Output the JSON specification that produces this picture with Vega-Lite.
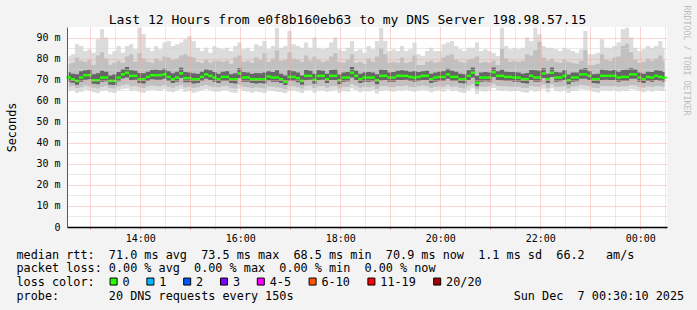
{
  "$schema": "https://vega.github.io/schema/vega-lite/v6.json",
  "width": 600,
  "height": 200,
  "autosize": {"type": "none"},
  "padding": {"left": 67, "top": 27, "right": 30, "bottom": 83},
  "background": "#f3f3f3",
  "title": {
    "text": "Last 12 Hours from e0f8b160eb63 to my DNS Server 198.98.57.15",
    "font": "DejaVu Sans Mono", "fontSize": 13, "fontWeight": "normal", "color": "black",
    "anchor": "middle", "frame": "group", "dx": -19.5, "dy": 35, "offset": 3.5, "baseline": "alphabetic"
  },
  "data": {"values": [
    {"t":"2025-12-06T12:34","lo":64.5,"p10":66.5,"q1":69.0,"med":71.0,"q3":73.5,"p90":77.5,"hi":81.2},
    {"t":"2025-12-06T12:39","lo":65.0,"p10":67.0,"q1":68.5,"med":70.2,"q3":72.8,"p90":78.0,"hi":82.0},
    {"t":"2025-12-06T12:44","lo":63.8,"p10":66.0,"q1":67.6,"med":69.4,"q3":72.5,"p90":80.5,"hi":86.8},
    {"t":"2025-12-06T12:49","lo":64.2,"p10":66.4,"q1":69.0,"med":71.0,"q3":74.0,"p90":79.0,"hi":86.0},
    {"t":"2025-12-06T12:54","lo":65.2,"p10":67.2,"q1":70.0,"med":72.1,"q3":74.5,"p90":78.5,"hi":83.6},
    {"t":"2025-12-06T12:59","lo":64.8,"p10":66.8,"q1":70.2,"med":72.1,"q3":74.8,"p90":79.5,"hi":84.4},
    {"t":"2025-12-06T13:04","lo":64.0,"p10":66.2,"q1":68.0,"med":69.7,"q3":72.6,"p90":77.0,"hi":82.8},
    {"t":"2025-12-06T13:09","lo":63.5,"p10":65.8,"q1":67.8,"med":69.7,"q3":73.0,"p90":81.5,"hi":89.2},
    {"t":"2025-12-06T13:14","lo":64.6,"p10":66.6,"q1":69.0,"med":71.0,"q3":74.2,"p90":83.0,"hi":93.9},
    {"t":"2025-12-06T13:19","lo":65.0,"p10":67.0,"q1":69.2,"med":71.0,"q3":73.8,"p90":80.0,"hi":90.0},
    {"t":"2025-12-06T13:24","lo":64.0,"p10":66.0,"q1":67.6,"med":69.4,"q3":72.0,"p90":77.0,"hi":82.0},
    {"t":"2025-12-06T13:29","lo":63.6,"p10":65.8,"q1":67.5,"med":69.4,"q3":72.4,"p90":78.0,"hi":83.6},
    {"t":"2025-12-06T13:34","lo":64.8,"p10":66.8,"q1":69.2,"med":71.0,"q3":73.6,"p90":79.0,"hi":86.0},
    {"t":"2025-12-06T13:39","lo":65.5,"p10":67.5,"q1":70.5,"med":72.5,"q3":75.0,"p90":78.0,"hi":82.8},
    {"t":"2025-12-06T13:44","lo":65.8,"p10":67.8,"q1":71.0,"med":73.3,"q3":76.0,"p90":81.0,"hi":86.0},
    {"t":"2025-12-06T13:49","lo":64.6,"p10":66.8,"q1":69.8,"med":71.8,"q3":74.5,"p90":82.0,"hi":86.8},
    {"t":"2025-12-06T13:54","lo":65.0,"p10":67.0,"q1":70.0,"med":71.8,"q3":74.2,"p90":78.5,"hi":84.4},
    {"t":"2025-12-06T13:59","lo":64.2,"p10":66.4,"q1":68.4,"med":70.2,"q3":73.2,"p90":82.5,"hi":94.7},
    {"t":"2025-12-06T14:04","lo":63.8,"p10":66.0,"q1":68.2,"med":70.2,"q3":73.0,"p90":80.0,"hi":91.5},
    {"t":"2025-12-06T14:09","lo":64.8,"p10":66.8,"q1":69.4,"med":71.3,"q3":73.8,"p90":78.5,"hi":85.2},
    {"t":"2025-12-06T14:14","lo":65.2,"p10":67.2,"q1":70.2,"med":72.1,"q3":74.6,"p90":78.0,"hi":83.6},
    {"t":"2025-12-06T14:19","lo":65.0,"p10":67.0,"q1":70.0,"med":72.1,"q3":74.8,"p90":80.0,"hi":86.0},
    {"t":"2025-12-06T14:24","lo":64.6,"p10":66.8,"q1":70.0,"med":72.1,"q3":74.4,"p90":79.0,"hi":84.4},
    {"t":"2025-12-06T14:29","lo":65.4,"p10":67.4,"q1":70.4,"med":72.5,"q3":75.2,"p90":81.0,"hi":87.6},
    {"t":"2025-12-06T14:34","lo":64.4,"p10":66.6,"q1":69.4,"med":71.3,"q3":74.0,"p90":80.5,"hi":88.4},
    {"t":"2025-12-06T14:39","lo":64.0,"p10":66.2,"q1":68.4,"med":70.2,"q3":73.0,"p90":79.5,"hi":86.0},
    {"t":"2025-12-06T14:44","lo":64.8,"p10":66.8,"q1":69.0,"med":71.0,"q3":73.8,"p90":80.0,"hi":86.8},
    {"t":"2025-12-06T14:49","lo":65.6,"p10":67.6,"q1":70.8,"med":73.0,"q3":75.6,"p90":81.5,"hi":87.6},
    {"t":"2025-12-06T14:54","lo":64.2,"p10":66.4,"q1":68.8,"med":70.7,"q3":73.6,"p90":82.0,"hi":89.2},
    {"t":"2025-12-06T14:59","lo":64.6,"p10":66.6,"q1":68.8,"med":70.7,"q3":73.4,"p90":81.0,"hi":90.7},
    {"t":"2025-12-06T15:04","lo":63.8,"p10":66.0,"q1":68.2,"med":70.2,"q3":73.0,"p90":80.5,"hi":88.4},
    {"t":"2025-12-06T15:09","lo":64.4,"p10":66.4,"q1":68.4,"med":70.2,"q3":72.8,"p90":78.5,"hi":85.2},
    {"t":"2025-12-06T15:14","lo":65.0,"p10":67.0,"q1":69.4,"med":71.3,"q3":73.8,"p90":78.0,"hi":83.6},
    {"t":"2025-12-06T15:19","lo":65.4,"p10":67.4,"q1":70.4,"med":72.5,"q3":75.0,"p90":79.5,"hi":85.2},
    {"t":"2025-12-06T15:24","lo":64.8,"p10":66.8,"q1":69.8,"med":71.8,"q3":74.4,"p90":78.0,"hi":82.8},
    {"t":"2025-12-06T15:29","lo":64.4,"p10":66.6,"q1":69.0,"med":71.0,"q3":73.6,"p90":79.0,"hi":86.0},
    {"t":"2025-12-06T15:34","lo":64.2,"p10":66.4,"q1":68.4,"med":70.2,"q3":72.8,"p90":79.0,"hi":85.2},
    {"t":"2025-12-06T15:39","lo":64.8,"p10":66.8,"q1":69.4,"med":71.3,"q3":73.8,"p90":78.5,"hi":84.4},
    {"t":"2025-12-06T15:44","lo":65.0,"p10":67.0,"q1":69.4,"med":71.3,"q3":74.0,"p90":79.0,"hi":85.2},
    {"t":"2025-12-06T15:49","lo":64.0,"p10":66.2,"q1":68.4,"med":70.2,"q3":72.6,"p90":77.5,"hi":83.6},
    {"t":"2025-12-06T15:54","lo":63.6,"p10":65.8,"q1":68.2,"med":70.2,"q3":73.0,"p90":80.5,"hi":86.0},
    {"t":"2025-12-06T15:59","lo":65.6,"p10":67.6,"q1":70.8,"med":72.9,"q3":75.4,"p90":81.5,"hi":87.6},
    {"t":"2025-12-06T16:04","lo":64.6,"p10":66.6,"q1":69.0,"med":71.0,"q3":73.6,"p90":78.5,"hi":84.4},
    {"t":"2025-12-06T16:09","lo":64.2,"p10":66.4,"q1":69.0,"med":71.0,"q3":73.4,"p90":79.0,"hi":85.2},
    {"t":"2025-12-06T16:14","lo":63.8,"p10":66.0,"q1":68.4,"med":70.2,"q3":72.8,"p90":78.0,"hi":83.6},
    {"t":"2025-12-06T16:19","lo":64.4,"p10":66.4,"q1":68.2,"med":70.2,"q3":73.2,"p90":80.5,"hi":86.8},
    {"t":"2025-12-06T16:24","lo":64.0,"p10":66.2,"q1":68.4,"med":70.2,"q3":73.0,"p90":79.5,"hi":86.0},
    {"t":"2025-12-06T16:29","lo":63.6,"p10":65.8,"q1":68.2,"med":70.2,"q3":73.4,"p90":82.5,"hi":88.4},
    {"t":"2025-12-06T16:34","lo":64.8,"p10":66.8,"q1":69.6,"med":71.5,"q3":74.0,"p90":78.5,"hi":84.4},
    {"t":"2025-12-06T16:39","lo":64.6,"p10":66.6,"q1":69.0,"med":71.0,"q3":73.6,"p90":80.0,"hi":86.0},
    {"t":"2025-12-06T16:44","lo":64.2,"p10":66.4,"q1":69.0,"med":71.0,"q3":74.4,"p90":84.0,"hi":94.7},
    {"t":"2025-12-06T16:49","lo":64.0,"p10":66.2,"q1":68.4,"med":70.2,"q3":72.8,"p90":79.0,"hi":85.2},
    {"t":"2025-12-06T16:54","lo":63.5,"p10":65.6,"q1":67.4,"med":69.0,"q3":72.0,"p90":79.5,"hi":86.0},
    {"t":"2025-12-06T16:59","lo":64.6,"p10":66.8,"q1":69.4,"med":71.3,"q3":74.4,"p90":83.0,"hi":93.1},
    {"t":"2025-12-06T17:04","lo":64.8,"p10":66.8,"q1":69.4,"med":71.3,"q3":74.0,"p90":80.0,"hi":86.8},
    {"t":"2025-12-06T17:09","lo":64.4,"p10":66.4,"q1":68.8,"med":70.7,"q3":73.4,"p90":79.5,"hi":86.0},
    {"t":"2025-12-06T17:14","lo":63.6,"p10":65.8,"q1":67.6,"med":69.4,"q3":72.0,"p90":78.5,"hi":85.2},
    {"t":"2025-12-06T17:19","lo":65.0,"p10":67.0,"q1":69.8,"med":71.8,"q3":74.6,"p90":81.5,"hi":87.6},
    {"t":"2025-12-06T17:24","lo":65.2,"p10":67.2,"q1":70.0,"med":71.8,"q3":74.2,"p90":79.0,"hi":85.2},
    {"t":"2025-12-06T17:29","lo":63.8,"p10":66.0,"q1":68.0,"med":69.9,"q3":72.8,"p90":81.0,"hi":90.0},
    {"t":"2025-12-06T17:34","lo":64.8,"p10":66.8,"q1":69.8,"med":71.8,"q3":74.4,"p90":79.5,"hi":85.2},
    {"t":"2025-12-06T17:39","lo":65.0,"p10":67.0,"q1":70.0,"med":71.8,"q3":74.2,"p90":78.5,"hi":84.4},
    {"t":"2025-12-06T17:44","lo":64.2,"p10":66.2,"q1":68.4,"med":70.2,"q3":72.8,"p90":79.0,"hi":85.2},
    {"t":"2025-12-06T17:49","lo":64.6,"p10":66.8,"q1":69.8,"med":71.8,"q3":74.6,"p90":81.0,"hi":87.6},
    {"t":"2025-12-06T17:54","lo":65.0,"p10":67.0,"q1":69.8,"med":71.8,"q3":74.8,"p90":82.5,"hi":90.0},
    {"t":"2025-12-06T17:59","lo":63.6,"p10":65.8,"q1":67.8,"med":69.7,"q3":72.4,"p90":78.5,"hi":84.4},
    {"t":"2025-12-06T18:04","lo":64.6,"p10":66.6,"q1":69.0,"med":71.0,"q3":73.4,"p90":78.0,"hi":83.6},
    {"t":"2025-12-06T18:09","lo":64.4,"p10":66.6,"q1":69.2,"med":71.0,"q3":73.6,"p90":79.5,"hi":85.2},
    {"t":"2025-12-06T18:14","lo":65.8,"p10":67.8,"q1":71.0,"med":73.3,"q3":76.0,"p90":82.0,"hi":88.4},
    {"t":"2025-12-06T18:19","lo":65.0,"p10":67.0,"q1":69.8,"med":71.8,"q3":74.2,"p90":78.0,"hi":83.6},
    {"t":"2025-12-06T18:24","lo":64.0,"p10":66.2,"q1":68.4,"med":70.2,"q3":72.8,"p90":78.5,"hi":84.4},
    {"t":"2025-12-06T18:29","lo":64.6,"p10":66.6,"q1":69.0,"med":71.0,"q3":73.4,"p90":77.5,"hi":82.8},
    {"t":"2025-12-06T18:34","lo":64.4,"p10":66.4,"q1":69.0,"med":71.0,"q3":73.6,"p90":80.0,"hi":86.0},
    {"t":"2025-12-06T18:39","lo":64.8,"p10":66.8,"q1":69.2,"med":71.0,"q3":73.4,"p90":78.5,"hi":84.4},
    {"t":"2025-12-06T18:44","lo":63.4,"p10":65.6,"q1":67.8,"med":69.7,"q3":72.6,"p90":81.0,"hi":88.4},
    {"t":"2025-12-06T18:49","lo":64.6,"p10":66.8,"q1":69.6,"med":71.8,"q3":74.8,"p90":85.0,"hi":94.7},
    {"t":"2025-12-06T18:54","lo":65.0,"p10":67.0,"q1":69.8,"med":71.8,"q3":74.6,"p90":82.0,"hi":88.4},
    {"t":"2025-12-06T18:59","lo":64.6,"p10":66.6,"q1":69.0,"med":71.0,"q3":73.4,"p90":78.0,"hi":83.6},
    {"t":"2025-12-06T19:04","lo":64.2,"p10":66.4,"q1":69.0,"med":71.0,"q3":73.6,"p90":78.5,"hi":84.4},
    {"t":"2025-12-06T19:09","lo":65.0,"p10":67.0,"q1":69.8,"med":71.8,"q3":74.2,"p90":78.0,"hi":83.6},
    {"t":"2025-12-06T19:14","lo":64.8,"p10":66.8,"q1":69.8,"med":71.8,"q3":74.4,"p90":80.5,"hi":86.0},
    {"t":"2025-12-06T19:19","lo":65.2,"p10":67.2,"q1":70.0,"med":71.8,"q3":74.2,"p90":78.0,"hi":83.6},
    {"t":"2025-12-06T19:24","lo":64.6,"p10":66.6,"q1":69.4,"med":71.3,"q3":73.8,"p90":78.5,"hi":84.4},
    {"t":"2025-12-06T19:29","lo":64.2,"p10":66.4,"q1":69.0,"med":71.0,"q3":74.0,"p90":81.5,"hi":87.6},
    {"t":"2025-12-06T19:34","lo":64.8,"p10":66.8,"q1":69.4,"med":71.3,"q3":73.6,"p90":77.0,"hi":82.0},
    {"t":"2025-12-06T19:39","lo":65.2,"p10":67.2,"q1":69.8,"med":71.8,"q3":74.0,"p90":77.0,"hi":81.2},
    {"t":"2025-12-06T19:44","lo":64.8,"p10":66.8,"q1":69.8,"med":71.8,"q3":74.2,"p90":78.5,"hi":83.6},
    {"t":"2025-12-06T19:49","lo":64.0,"p10":66.2,"q1":68.4,"med":70.2,"q3":72.8,"p90":79.0,"hi":85.2},
    {"t":"2025-12-06T19:54","lo":64.6,"p10":66.6,"q1":69.0,"med":71.0,"q3":73.4,"p90":78.0,"hi":83.6},
    {"t":"2025-12-06T19:59","lo":64.8,"p10":66.8,"q1":69.4,"med":71.3,"q3":73.8,"p90":78.5,"hi":83.6},
    {"t":"2025-12-06T20:04","lo":64.4,"p10":66.6,"q1":69.4,"med":71.3,"q3":74.0,"p90":80.5,"hi":86.8},
    {"t":"2025-12-06T20:09","lo":65.4,"p10":67.4,"q1":70.4,"med":72.5,"q3":75.2,"p90":81.5,"hi":87.6},
    {"t":"2025-12-06T20:14","lo":64.6,"p10":66.6,"q1":69.4,"med":71.3,"q3":74.2,"p90":82.0,"hi":88.4},
    {"t":"2025-12-06T20:19","lo":64.8,"p10":66.8,"q1":69.4,"med":71.3,"q3":73.8,"p90":79.5,"hi":86.0},
    {"t":"2025-12-06T20:24","lo":64.0,"p10":66.2,"q1":68.4,"med":70.2,"q3":72.8,"p90":78.5,"hi":84.4},
    {"t":"2025-12-06T20:29","lo":63.6,"p10":65.8,"q1":68.2,"med":70.2,"q3":72.6,"p90":78.0,"hi":83.6},
    {"t":"2025-12-06T20:34","lo":65.0,"p10":67.0,"q1":69.8,"med":71.8,"q3":74.4,"p90":79.5,"hi":85.2},
    {"t":"2025-12-06T20:39","lo":65.8,"p10":67.8,"q1":71.0,"med":73.3,"q3":75.8,"p90":80.0,"hi":85.2},
    {"t":"2025-12-06T20:44","lo":63.2,"p10":65.4,"q1":66.8,"med":68.5,"q3":71.8,"p90":81.0,"hi":87.6},
    {"t":"2025-12-06T20:49","lo":64.6,"p10":66.6,"q1":69.0,"med":71.0,"q3":73.4,"p90":78.0,"hi":83.6},
    {"t":"2025-12-06T20:54","lo":64.4,"p10":66.6,"q1":69.2,"med":71.0,"q3":73.6,"p90":78.5,"hi":84.4},
    {"t":"2025-12-06T20:59","lo":64.8,"p10":66.8,"q1":69.0,"med":71.0,"q3":73.4,"p90":78.0,"hi":83.6},
    {"t":"2025-12-06T21:04","lo":66.0,"p10":68.0,"q1":71.2,"med":73.5,"q3":75.8,"p90":79.0,"hi":82.8},
    {"t":"2025-12-06T21:09","lo":65.0,"p10":67.0,"q1":69.8,"med":71.8,"q3":74.0,"p90":77.0,"hi":81.2},
    {"t":"2025-12-06T21:14","lo":64.6,"p10":66.8,"q1":69.6,"med":71.8,"q3":74.8,"p90":84.5,"hi":94.7},
    {"t":"2025-12-06T21:19","lo":64.8,"p10":66.8,"q1":69.4,"med":71.3,"q3":73.8,"p90":80.0,"hi":86.0},
    {"t":"2025-12-06T21:24","lo":64.4,"p10":66.6,"q1":69.4,"med":71.3,"q3":73.6,"p90":78.5,"hi":84.4},
    {"t":"2025-12-06T21:29","lo":64.6,"p10":66.6,"q1":69.0,"med":71.0,"q3":73.6,"p90":79.0,"hi":85.2},
    {"t":"2025-12-06T21:34","lo":64.6,"p10":66.6,"q1":69.0,"med":71.0,"q3":73.4,"p90":78.5,"hi":84.4},
    {"t":"2025-12-06T21:39","lo":64.0,"p10":66.2,"q1":68.4,"med":70.2,"q3":72.8,"p90":79.0,"hi":85.2},
    {"t":"2025-12-06T21:44","lo":63.8,"p10":66.0,"q1":68.2,"med":70.2,"q3":73.2,"p90":82.0,"hi":90.0},
    {"t":"2025-12-06T21:49","lo":65.0,"p10":67.0,"q1":69.8,"med":71.8,"q3":74.6,"p90":81.5,"hi":88.4},
    {"t":"2025-12-06T21:54","lo":64.4,"p10":66.6,"q1":69.0,"med":71.0,"q3":74.4,"p90":84.0,"hi":94.7},
    {"t":"2025-12-06T21:59","lo":64.6,"p10":66.6,"q1":69.0,"med":71.0,"q3":74.2,"p90":88.0,"hi":91.5},
    {"t":"2025-12-06T22:04","lo":65.6,"p10":67.6,"q1":70.8,"med":72.9,"q3":75.4,"p90":80.5,"hi":86.0},
    {"t":"2025-12-06T22:09","lo":64.0,"p10":66.2,"q1":68.4,"med":70.2,"q3":72.8,"p90":79.0,"hi":85.2},
    {"t":"2025-12-06T22:14","lo":65.8,"p10":67.8,"q1":71.2,"med":73.3,"q3":75.8,"p90":80.0,"hi":85.2},
    {"t":"2025-12-06T22:19","lo":64.6,"p10":66.6,"q1":69.0,"med":71.0,"q3":73.6,"p90":78.5,"hi":84.4},
    {"t":"2025-12-06T22:24","lo":64.4,"p10":66.6,"q1":69.2,"med":71.0,"q3":73.4,"p90":78.0,"hi":83.6},
    {"t":"2025-12-06T22:29","lo":65.0,"p10":67.0,"q1":69.8,"med":71.8,"q3":74.4,"p90":79.5,"hi":85.2},
    {"t":"2025-12-06T22:34","lo":63.6,"p10":65.8,"q1":67.8,"med":69.7,"q3":72.4,"p90":78.5,"hi":84.4},
    {"t":"2025-12-06T22:39","lo":64.6,"p10":66.6,"q1":69.0,"med":71.0,"q3":73.4,"p90":78.0,"hi":83.6},
    {"t":"2025-12-06T22:44","lo":64.8,"p10":66.8,"q1":69.2,"med":71.0,"q3":73.4,"p90":77.5,"hi":82.8},
    {"t":"2025-12-06T22:49","lo":65.4,"p10":67.4,"q1":70.4,"med":72.5,"q3":75.0,"p90":79.0,"hi":84.4},
    {"t":"2025-12-06T22:54","lo":65.2,"p10":67.2,"q1":70.4,"med":72.5,"q3":75.4,"p90":84.0,"hi":93.1},
    {"t":"2025-12-06T22:59","lo":65.0,"p10":67.0,"q1":69.8,"med":71.8,"q3":74.0,"p90":77.0,"hi":82.0},
    {"t":"2025-12-06T23:04","lo":64.2,"p10":66.2,"q1":68.4,"med":70.2,"q3":72.6,"p90":77.0,"hi":82.0},
    {"t":"2025-12-06T23:09","lo":63.8,"p10":66.0,"q1":68.2,"med":70.2,"q3":72.8,"p90":77.5,"hi":82.8},
    {"t":"2025-12-06T23:14","lo":64.8,"p10":66.8,"q1":69.8,"med":71.8,"q3":74.8,"p90":82.0,"hi":89.2},
    {"t":"2025-12-06T23:19","lo":65.0,"p10":67.0,"q1":70.0,"med":71.8,"q3":74.4,"p90":79.5,"hi":85.2},
    {"t":"2025-12-06T23:24","lo":64.6,"p10":66.8,"q1":69.8,"med":71.8,"q3":74.2,"p90":79.0,"hi":85.2},
    {"t":"2025-12-06T23:29","lo":65.0,"p10":67.0,"q1":69.8,"med":71.8,"q3":74.6,"p90":80.5,"hi":86.0},
    {"t":"2025-12-06T23:34","lo":64.4,"p10":66.6,"q1":69.0,"med":71.0,"q3":73.8,"p90":81.0,"hi":87.6},
    {"t":"2025-12-06T23:39","lo":64.8,"p10":66.8,"q1":69.4,"med":71.3,"q3":74.6,"p90":86.0,"hi":93.9},
    {"t":"2025-12-06T23:44","lo":64.6,"p10":66.8,"q1":69.4,"med":71.3,"q3":74.8,"p90":87.0,"hi":94.7},
    {"t":"2025-12-06T23:49","lo":65.4,"p10":67.4,"q1":70.4,"med":72.5,"q3":75.4,"p90":83.0,"hi":90.0},
    {"t":"2025-12-06T23:54","lo":65.2,"p10":67.2,"q1":70.4,"med":72.5,"q3":75.0,"p90":79.5,"hi":85.2},
    {"t":"2025-12-06T23:59","lo":64.6,"p10":66.6,"q1":69.0,"med":71.0,"q3":73.4,"p90":78.0,"hi":83.6},
    {"t":"2025-12-07T00:04","lo":64.0,"p10":66.2,"q1":68.4,"med":70.2,"q3":72.8,"p90":78.5,"hi":84.4},
    {"t":"2025-12-07T00:09","lo":64.8,"p10":66.8,"q1":69.4,"med":71.3,"q3":73.8,"p90":80.0,"hi":86.0},
    {"t":"2025-12-07T00:14","lo":64.4,"p10":66.6,"q1":69.0,"med":71.0,"q3":73.6,"p90":79.0,"hi":85.2},
    {"t":"2025-12-07T00:19","lo":65.0,"p10":67.0,"q1":69.8,"med":71.8,"q3":74.4,"p90":80.0,"hi":86.0},
    {"t":"2025-12-07T00:24","lo":64.6,"p10":66.8,"q1":69.4,"med":71.3,"q3":74.2,"p90":81.5,"hi":88.4},
    {"t":"2025-12-07T00:29","lo":64.6,"p10":66.6,"q1":69.0,"med":70.9,"q3":73.6,"p90":79.0,"hi":85.2}
  ]},
  "encoding": {
    "x": {
      "field": "t", "type": "temporal",
      "scale": {"domain": [{"year": 2025, "month": 12, "date": 6, "hours": 12, "minutes": 32}, {"year": 2025, "month": 12, "date": 7, "hours": 0, "minutes": 32}], "nice": false},
      "axis": {
        "tickCount": 24,
        "labelExpr": "minutes(datum.value) == 0 && hours(datum.value) % 2 == 0 ? timeFormat(datum.value, '%H:%M') : ''",
        "labelFont": "DejaVu Sans Mono", "labelFontSize": 10, "labelColor": "black", "labelPadding": 4.5,
        "labelOverlap": false, "labelFlush": false, "labelBound": false,
        "ticks": true, "tickSize": 2,
        "tickColor": {"condition": {"test": "minutes(datum.value) == 0", "value": "#f07a7a"}, "value": "#c4c4c4"},
        "domain": true, "domainColor": "black", "domainWidth": 1.5,
        "grid": true, "gridDash": [1, 1], "gridWidth": 1,
        "gridColor": {"condition": {"test": "minutes(datum.value) == 0", "value": "#f7a8a8"}, "value": "#d4d4d4"},
        "title": [
          "median\u00a0rtt:\u00a0\u00a071.0\u00a0ms\u00a0avg\u00a0\u00a073.5\u00a0ms\u00a0max\u00a0\u00a068.5\u00a0ms\u00a0min\u00a0\u00a070.9\u00a0ms\u00a0now\u00a0\u00a01.1\u00a0ms\u00a0sd\u00a0\u00a066.2\u00a0\u00a0\u00a0am/s",
          "packet\u00a0loss:\u00a00.00\u00a0%\u00a0avg\u00a0\u00a00.00\u00a0%\u00a0max\u00a0\u00a00.00\u00a0%\u00a0min\u00a0\u00a00.00\u00a0%\u00a0now",
          "loss\u00a0color:",
          "probe:\u00a0\u00a0\u00a0\u00a0\u00a0\u00a0\u00a020\u00a0DNS\u00a0requests\u00a0every\u00a0150s\u00a0\u00a0\u00a0\u00a0\u00a0\u00a0\u00a0\u00a0\u00a0\u00a0\u00a0\u00a0\u00a0\u00a0\u00a0\u00a0\u00a0\u00a0\u00a0\u00a0\u00a0\u00a0\u00a0\u00a0\u00a0\u00a0\u00a0\u00a0\u00a0\u00a0\u00a0Sun\u00a0Dec\u00a0\u00a07\u00a000:30:10\u00a02025"
        ],
        "titleFont": "DejaVu Sans Mono", "titleFontSize": 11.8, "titleFontWeight": "normal", "titleColor": "black",
        "titleAlign": "left", "titleAnchor": "start", "titleBaseline": "alphabetic", "titleLineHeight": 13.8,
        "titleX": -51, "titleY": 31,
        "zindex": 1
      }
    }
  },
  "layer": [
    {
      "mark": {"type": "area", "interpolate": "step", "color": "#dcdcdc"},
      "encoding": {
        "y": {
          "field": "lo", "type": "quantitative",
          "scale": {"domain": [0, 95], "nice": false, "zero": true},
          "axis": {
            "values": [0, 5, 10, 15, 20, 25, 30, 35, 40, 45, 50, 55, 60, 65, 70, 75, 80, 85, 90],
            "labelExpr": "datum.value == 0 ? '0\u00a0\u00a0' : (datum.value % 10 == 0 ? datum.value + '\u00a0m' : '')",
            "labelFont": "DejaVu Sans Mono", "labelFontSize": 10, "labelColor": "black", "labelPadding": 7,
            "labelOverlap": false, "labelBound": false, "labelFlush": false,
            "ticks": false,
            "domain": true, "domainColor": "#5a5a5a", "domainWidth": 1,
            "grid": true, "gridDash": [1, 1], "gridWidth": 1,
            "gridColor": {"condition": {"test": "datum.value % 10 == 0", "value": "#f7a8a8"}, "value": "#d4d4d4"},
            "title": "Seconds",
            "titleFont": "DejaVu Sans Mono", "titleFontSize": 11.8, "titleFontWeight": "normal", "titleColor": "black",
            "titleAngle": -90, "titleAlign": "center", "titleBaseline": "middle",
            "titleX": -56, "titleY": 100,
            "zindex": 1
          }
        },
        "y2": {"field": "hi"}
      }
    },
    {
      "mark": {"type": "area", "interpolate": "step", "color": "#c0c0c0"},
      "encoding": {
        "y": {"field": "p10", "type": "quantitative", "axis": null},
        "y2": {"field": "p90"}
      }
    },
    {
      "mark": {"type": "area", "interpolate": "step", "color": "#666666"},
      "encoding": {
        "y": {"field": "q1", "type": "quantitative", "axis": null},
        "y2": {"field": "q3"}
      }
    },
    {
      "mark": {"type": "tick", "orient": "horizontal", "size": 4.3, "thickness": 2.5, "opacity": 1},
      "encoding": {
        "y": {
          "field": "med", "type": "quantitative",
          "axis": {
            "orient": "right", "labels": false, "ticks": false, "domain": false, "grid": false,
            "title": "RRDTOOL / TOBI OETIKER",
            "titleFont": "DejaVu Sans Mono", "titleFontSize": 8.3, "titleFontWeight": "normal", "titleColor": "#bdbdbd",
            "titleAngle": 90, "titleAlign": "center", "titleBaseline": "middle",
            "titleX": 18, "titleY": 33
          }
        },
        "color": {
          "datum": "0", "type": "nominal",
          "scale": {
            "domain": ["0", "1", "2", "3", "4-5", "6-10", "11-19", "20/20"],
            "range": ["#26ff00", "#00b8ff", "#0059ff", "#7e00ff", "#ff00ff", "#ff5500", "#ff0000", "#a00000"]
          },
          "legend": {
            "orient": "none", "legendX": 40.7, "legendY": 248.5,
            "direction": "horizontal", "title": null,
            "symbolType": "square", "symbolSize": 49, "symbolStrokeColor": "black", "symbolStrokeWidth": 1,
            "labelFont": "DejaVu Sans Mono", "labelFontSize": 11.8, "labelColor": "black", "labelOffset": 3,
            "columnPadding": 14.8
          }
        }
      }
    }
  ],
  "resolve": {"axis": {"y": "independent"}},
  "config": {
    "font": "DejaVu Sans Mono",
    "view": {"stroke": null, "fill": "white"}
  }
}
